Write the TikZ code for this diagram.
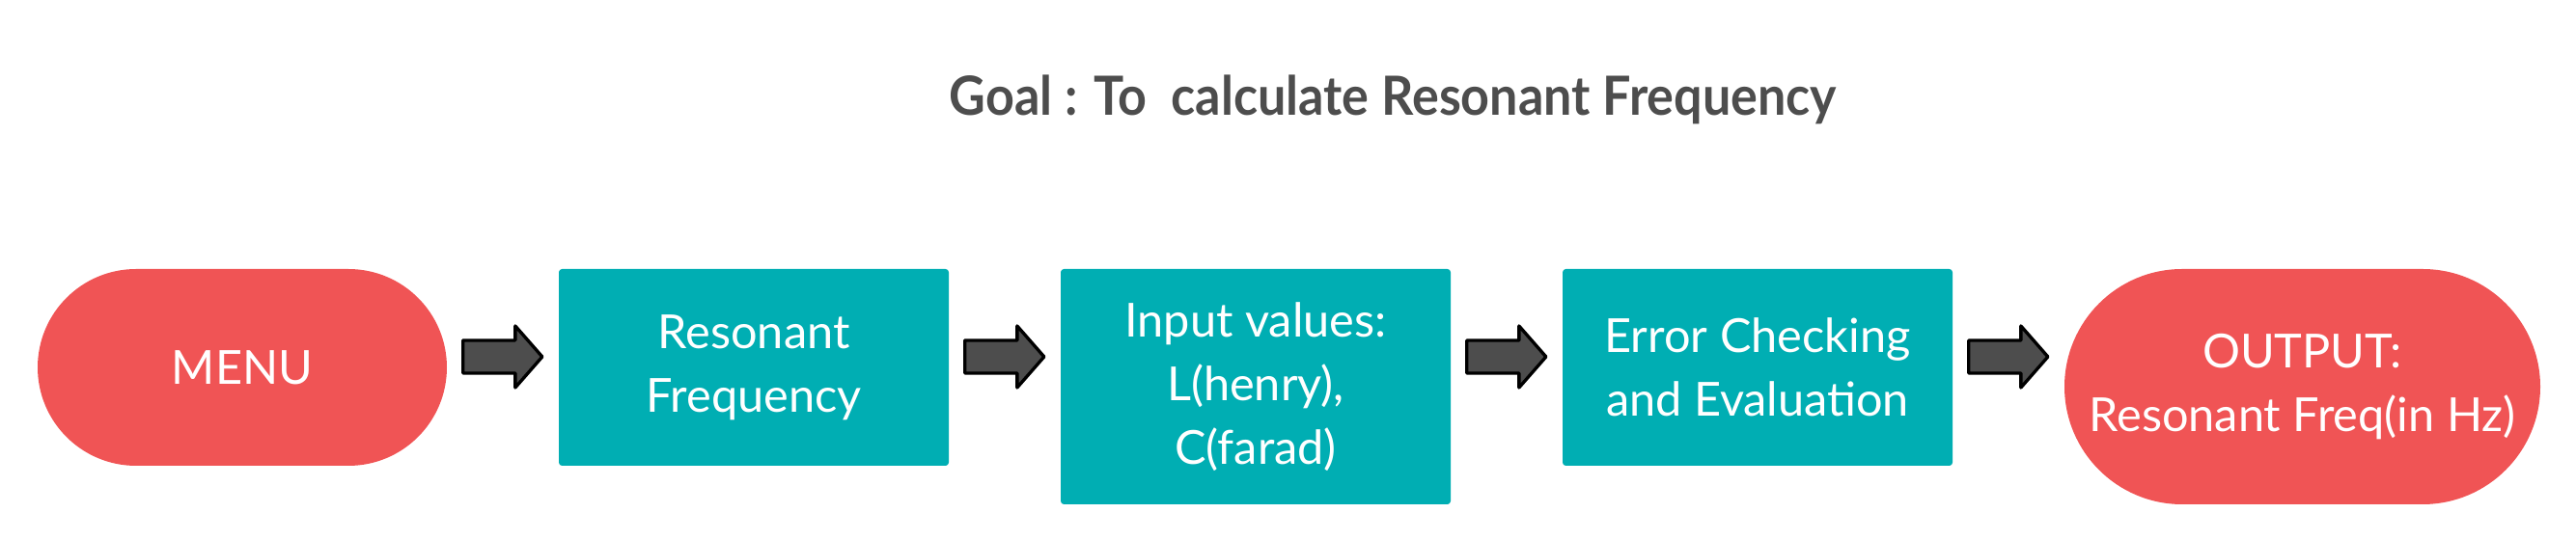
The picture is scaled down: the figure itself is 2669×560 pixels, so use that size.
\documentclass[tikz,border=0pt]{standalone}
\usepackage{fontspec}
\usepackage{graphicx}
\setmainfont{Lato}
\usetikzlibrary{calc}
\definecolor{ovalred}{RGB}{240,84,85}
\definecolor{boxteal}{RGB}{0,174,179}
\definecolor{arrowgray}{RGB}{77,77,77}
\definecolor{titlegray}{RGB}{77,77,77}
\tikzset{
  boxtext/.style={font=\fontsize{14.6}{19.8}\selectfont, text=white, align=center, inner sep=0pt},
  tealbox/.style={boxtext, fill=boxteal, rounded corners=1pt, minimum width=121.2pt},
  ovalbox/.style={boxtext, fill=ovalred},
  blockarrow/.style={fill=arrowgray, draw=black, line width=1pt, line join=round},
}
\newcommand\fatarrow[2]{%
  \coordinate (s) at ($(#1.east |- 0,370)+(16,0)$);
  \coordinate (e) at ($(#2.west |- 0,370)+(-16.5,0)$);
  \path[blockarrow] ($(s)+(0,-17)$) -- ($(e)+(-28,-17)$) -- ($(e)+(-28,-32)$) -- (e)
    -- ($(e)+(-28,32)$) -- ($(e)+(-28,17)$) -- ($(s)+(0,17)$) -- cycle;}
\begin{document}
\begin{tikzpicture}[x=0.3pt,y=-0.3pt]
\useasboundingbox (0,0) rectangle (2669,560);
\node[anchor=base west, inner sep=0pt, text=titlegray, font=\fontsize{16.8}{20}\selectfont\bfseries] (title) at (983,120) {\scalebox{0.93}[1]{Goal : To\ \ calculate Resonant Frequency}};
\node[ovalbox, minimum width=127.2pt, minimum height=61.2pt, rounded corners=30.6pt] (menu) at (251,381) {MENU};
\node[tealbox, minimum height=61.2pt] (reso) at (781,381) {Resonant\\Frequency};
\node[tealbox, minimum height=73.2pt] (input) at (1301,401) {Input values:\\L(henry),\\C(farad)};
\node[tealbox, minimum height=61.2pt] (err) at (1821,381) {Error Checking\\and Evaluation};
\node[ovalbox, minimum width=147.9pt, minimum height=73.2pt, rounded corners=36.6pt] (out) at (2385.5,401) {OUTPUT:\\Resonant Freq(in Hz)};
\fatarrow{menu}{reso}
\fatarrow{reso}{input}
\fatarrow{input}{err}
\fatarrow{err}{out}
\end{tikzpicture}
\end{document}
